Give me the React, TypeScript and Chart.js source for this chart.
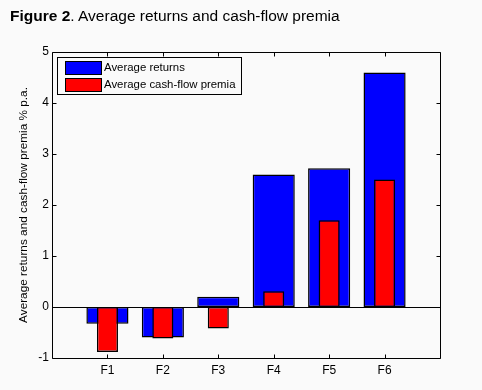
import React, { useEffect, useRef } from "react";
import { Chart, registerables } from "chart.js";

Chart.register(...registerables);

const categories = ["", "F1", "F2", "F3", "F4", "F5", "F6", ""];
const averageReturns = [null, -0.33, -0.6, 0.2, 2.6, 2.72, 4.6, null];
const cashFlowPremia = [null, -0.88, -0.62, -0.42, 0.31, 1.7, 2.5, null];
const seriesLabels = ["Average returns", "Average cash-flow premia"];
const yTitle = "Average returns and cash-flow premia % p.a.";

const FONT = '"Liberation Sans", Arial, sans-serif';
const BG = "#fafafa";

const crisp = (v: number) => Math.round(v) + 0.5;

const matlabPlugin = {
  id: "matlabBox",
  afterDatasetsDraw(chart: any) {
    const { ctx, chartArea: a, scales } = chart;
    const x = scales.x;
    const y = scales.y;
    ctx.save();
    ctx.strokeStyle = "#000";
    ctx.lineWidth = 1;
    const y0 = crisp(y.getPixelForValue(0));
    ctx.beginPath();
    ctx.moveTo(a.left, y0);
    ctx.lineTo(a.right, y0);
    ctx.stroke();
    const L = crisp(a.left), R = crisp(a.right), T = crisp(a.top), B = crisp(a.bottom);
    ctx.beginPath();
    ctx.moveTo(L, T);
    ctx.lineTo(R, T);
    ctx.lineTo(R, B);
    ctx.lineTo(L, B);
    ctx.closePath();
    ctx.stroke();
    const tl = 4;
    ctx.beginPath();
    x.ticks.forEach((t: any, i: number) => {
      if (!categories[i]) return;
      const px = crisp(x.getPixelForTick(i));
      ctx.moveTo(px, B);
      ctx.lineTo(px, B - tl);
      ctx.moveTo(px, T);
      ctx.lineTo(px, T + tl);
    });
    y.ticks.forEach((t: any) => {
      const py = crisp(y.getPixelForValue(t.value));
      ctx.moveTo(L, py);
      ctx.lineTo(L + tl, py);
      ctx.moveTo(R, py);
      ctx.lineTo(R - tl, py);
    });
    ctx.stroke();
    ctx.restore();
  },
  afterDraw(chart: any) {
    const { ctx, chartArea: a } = chart;
    ctx.save();
    const bx = Math.round(a.left) + 5;
    const by = Math.round(a.top) + 5;
    const bw = 184;
    const bh = 37;
    ctx.fillStyle = BG;
    ctx.fillRect(bx, by, bw, bh);
    ctx.strokeStyle = "#000";
    ctx.lineWidth = 1;
    ctx.strokeRect(bx + 0.5, by + 0.5, bw, bh);
    ctx.font = `11.4px ${FONT}`;
    ctx.textBaseline = "middle";
    ctx.textAlign = "left";
    chart.data.datasets.forEach((ds: any, i: number) => {
      const sy = by + 4 + i * 17;
      ctx.fillStyle = ds.backgroundColor;
      ctx.fillRect(bx + 8, sy, 36, 13);
      ctx.strokeRect(bx + 8.5, sy + 0.5, 36, 13);
      ctx.fillStyle = "#000";
      ctx.fillText(ds.label, bx + 47, sy + 7);
    });
    ctx.restore();
  },
};

export default function App() {
  const ref = useRef<HTMLCanvasElement | null>(null);
  useEffect(() => {
    document.body.style.margin = "0";
    document.body.style.background = BG;
    if (!ref.current) return;
    const chart = new Chart(ref.current, {
      type: "bar",
      data: {
        labels: categories,
        datasets: [
          {
            label: seriesLabels[0],
            data: averageReturns,
            backgroundColor: "#0000ff",
            borderColor: "#000",
            borderWidth: 1.5,
            borderSkipped: false,
            inflateAmount: 0,
            grouped: false,
            barPercentage: 0.76,
            categoryPercentage: 1,
            order: 1,
          },
          {
            label: seriesLabels[1],
            data: cashFlowPremia,
            backgroundColor: "#ff0000",
            borderColor: "#000",
            borderWidth: 1.5,
            borderSkipped: false,
            inflateAmount: 0,
            grouped: false,
            barPercentage: 0.38,
            categoryPercentage: 1,
            order: 0,
          },
        ] as any,
      },
      options: {
        animation: false,
        responsive: false,
        layout: { padding: { top: 52, right: 42, bottom: 0, left: 0 } },
        plugins: { legend: { display: false }, tooltip: { enabled: false } },
        scales: {
          x: {
            type: "category",
            offset: false,
            grid: { display: false, drawTicks: false, offset: false },
            border: { display: false },
            ticks: {
              color: "#000",
              font: { family: FONT, size: 12 },
              padding: 5,
              autoSkip: false,
              maxRotation: 0,
            },
            afterFit: (s: any) => {
              s.height = 32;
            },
          },
          y: {
            min: -1,
            max: 5,
            grid: { display: false, drawTicks: false },
            border: { display: false },
            ticks: {
              stepSize: 1,
              color: "#000",
              font: { family: FONT, size: 12 },
              padding: 3,
            },
            title: {
              display: true,
              text: yTitle,
              color: "#000",
              font: { family: FONT, size: 11.8 },
              padding: { top: 17, bottom: 0 },
            },
            afterFit: (s: any) => {
              s.width = 52;
            },
          },
        },
      } as any,
      plugins: [matlabPlugin],
    });
    return () => chart.destroy();
  }, []);

  return (
    <div style={{ position: "relative", width: 482, height: 390, background: BG }}>
      <div
        style={{
          position: "absolute",
          left: 10,
          top: 7,
          fontFamily: FONT,
          fontSize: 15.5,
          color: "#000",
          whiteSpace: "nowrap",
        }}
      >
        <b>Figure 2</b>. Average returns and cash-flow premia
      </div>
      <canvas ref={ref} width={482} height={390} style={{ display: "block" }} />
    </div>
  );
}
